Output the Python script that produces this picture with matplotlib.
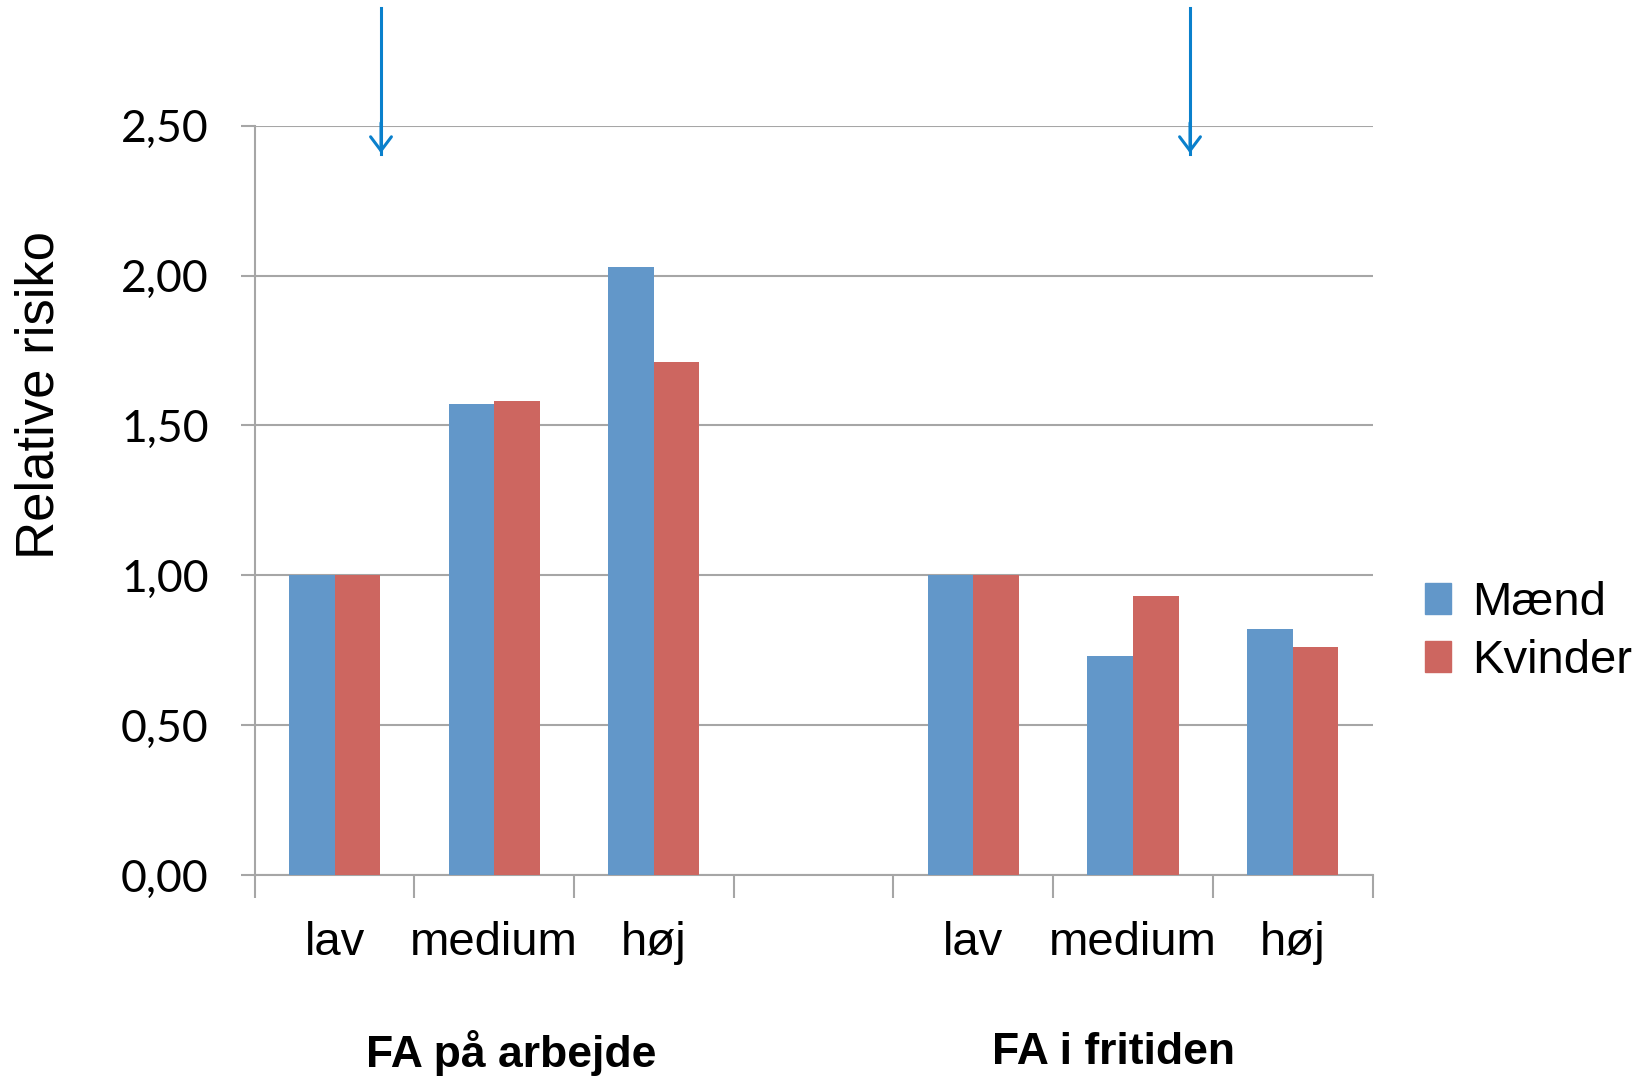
import numpy as np
import matplotlib.pyplot as plt
from matplotlib.patches import Patch

# categories (empty slot separates the two groups)
categories = ["lav", "medium", "høj", "", "lav", "medium", "høj"]
groups = ["FA på arbejde", "FA i fritiden"]
series = ["Mænd", "Kvinder"]
maend = [1.00, 1.57, 2.03, np.nan, 1.00, 0.73, 0.82]
kvinder = [1.00, 1.58, 1.71, np.nan, 1.00, 0.93, 0.76]
yticks = [0.0, 0.5, 1.0, 1.5, 2.0, 2.5]

blue = "#6297C9"
red = "#CD6660"
grid_c = "#A6A6A6"
arrow_c = "#0A80CC"

plt.rcParams['font.family'] = ['Liberation Sans', 'DejaVu Sans']

fig = plt.figure(figsize=(16.43, 10.8), dpi=100)
ax = fig.add_axes([0.155, 0.1898, 0.6804, 0.6938])

x = np.arange(len(categories))
w = 0.285
ax.bar(x - w / 2, maend, w, color=blue, label=series[0], zorder=3)
ax.bar(x + w / 2, kvinder, w, color=red, label=series[1], zorder=3)

ax.set_xlim(-0.5, len(categories) - 0.5)
ax.set_ylim(0, 2.5)

# y axis
ax.set_yticks(yticks)
ax.set_yticklabels([f"{v:.2f}".replace(".", ",") for v in yticks],
                   fontsize=32, family=['Lato', 'DejaVu Sans'])
ax.tick_params(axis='y', length=10, width=1.5, color=grid_c, pad=23)
ax.yaxis.grid(True, color=grid_c, linewidth=1.5, zorder=0)

# x axis: labels at centres, tick marks at boundaries
ax.set_xticks(x)
ax.set_xticklabels(categories, fontsize=34)
ax.tick_params(axis='x', which='major', length=0, pad=33)
ax.set_xticks(np.arange(-0.5, len(categories)), minor=True)
ax.tick_params(axis='x', which='minor', length=16.5, width=1.5, color=grid_c)

for s in ["top", "right"]:
    ax.spines[s].set_visible(False)
for s in ["left", "bottom"]:
    ax.spines[s].set_color(grid_c)
    ax.spines[s].set_linewidth(1.5)

ax.set_ylabel("Relative risiko", fontsize=38)
ax.yaxis.set_label_coords(-0.17, 0.64)

# group labels
fig.text(511 / 1643, 1 - 1053 / 1080, groups[0], fontsize=32, fontweight='bold',
         ha='center', va='center')
fig.text(1114 / 1643, 1 - 1053 / 1080, groups[1], fontsize=32, fontweight='bold',
         ha='center', va='center')

# arrows from the top
for xa in [381, 1190]:
    fig.add_artist(plt.Line2D([xa / 1643, xa / 1643], [1 - 8 / 1080, 1 - 154 / 1080],
                              color=arrow_c, linewidth=2.2))
    ax.annotate("", xy=(xa / 1643, 1 - 156 / 1080), xycoords='figure fraction',
                xytext=(xa / 1643, 1 - 120 / 1080), textcoords='figure fraction',
                arrowprops=dict(arrowstyle='->,head_length=1.0,head_width=0.75',
                                color=arrow_c, lw=2.2))

handles = [Patch(color=blue), Patch(color=red)]
fig.legend(handles, series, loc='upper left', frameon=False, fontsize=34,
           bbox_to_anchor=(1425 / 1643, 1 - 581 / 1080), borderpad=0,
           borderaxespad=0, handlelength=0.55, handleheight=0.64,
           handletextpad=0.45, labelspacing=0.3)

fig.savefig("out.png", dpi=100)
